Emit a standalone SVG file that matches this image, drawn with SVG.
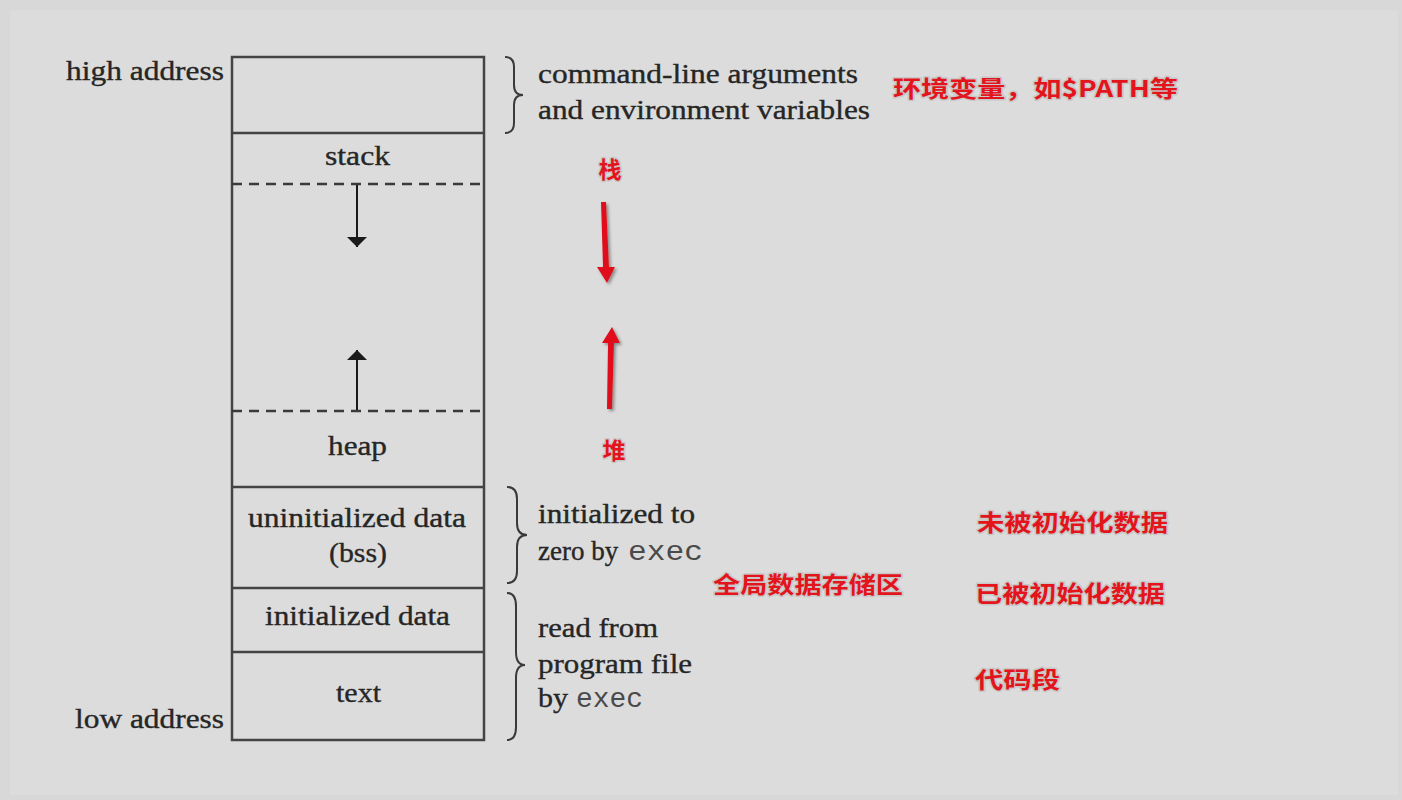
<svg xmlns="http://www.w3.org/2000/svg" width="1402" height="800" viewBox="0 0 1402 800">
<defs>
<style>
.t{font-family:"Liberation Serif","DejaVu Serif",serif;font-size:27px;fill:#262626;stroke:#262626;stroke-width:0.35}
.m{font-family:"Liberation Mono","DejaVu Sans Mono",monospace;font-size:27px;fill:#4a4a4a}
.box{fill:none;stroke:#444;stroke-width:2.5}
.dash{fill:none;stroke:#3a3a3a;stroke-width:2.5;stroke-dasharray:10 7}
.brace{fill:none;stroke:#3a3a3a;stroke-width:2}
.cn{font-family:"Noto Sans CJK SC","Liberation Sans",sans-serif;font-weight:bold;font-size:23px;fill:#e3141c;stroke:#c8c8c8;stroke-width:3;paint-order:stroke;stroke-linejoin:round}
</style>
<marker id="ah" viewBox="0 0 10 20" refX="10" refY="10" markerWidth="10" markerHeight="20" markerUnits="userSpaceOnUse" orient="auto">
<path d="M0,0 L10,10 L0,20 Z" fill="#1a1a1a"/>
</marker>
<filter id="sh" x="-50%" y="-10%" width="200%" height="120%">
<feDropShadow dx="2" dy="2" stdDeviation="1.5" flood-color="#555" flood-opacity="0.6"/>
</filter>
</defs>
<rect x="0" y="0" width="1402" height="800" fill="#d8d8d8"/>
<rect x="10" y="10" width="1388" height="785" fill="#dcdcdc"/>

<g id="memory">
<rect class="box" x="232" y="57" width="252" height="683"/>
<line class="box" x1="232" y1="133" x2="484" y2="133"/>
<line class="box" x1="232" y1="487" x2="484" y2="487"/>
<line class="box" x1="232" y1="588" x2="484" y2="588"/>
<line class="box" x1="232" y1="652" x2="484" y2="652"/>
<line class="dash" x1="232" y1="184" x2="484" y2="184"/>
<line class="dash" x1="232" y1="411" x2="484" y2="411"/>
</g>

<g id="labels-left">
<text class="t" x="66" y="80" textLength="158" lengthAdjust="spacingAndGlyphs">high address</text>
<text class="t" x="75" y="728" textLength="149" lengthAdjust="spacingAndGlyphs">low address</text>
</g>

<g id="node-stack"><text class="t" x="325" y="165" textLength="65" lengthAdjust="spacingAndGlyphs">stack</text></g>
<g id="node-heap"><text class="t" x="328" y="455" textLength="59" lengthAdjust="spacingAndGlyphs">heap</text></g>
<g id="node-bss">
<text class="t" x="248" y="527" textLength="218" lengthAdjust="spacingAndGlyphs">uninitialized data</text>
<text class="t" x="329" y="562" textLength="58" lengthAdjust="spacingAndGlyphs">(bss)</text>
</g>
<g id="node-data"><text class="t" x="265" y="625" textLength="185" lengthAdjust="spacingAndGlyphs">initialized data</text></g>
<g id="node-text"><text class="t" x="336" y="702" textLength="45" lengthAdjust="spacingAndGlyphs">text</text></g>

<g id="connectors">
<line x1="357" y1="185" x2="357" y2="247" stroke="#1a1a1a" stroke-width="2" marker-end="url(#ah)"/>
<line x1="357" y1="410" x2="357" y2="350" stroke="#1a1a1a" stroke-width="2" marker-end="url(#ah)"/>
<path class="brace" d="M505,57 Q514,57 514,67 L514,85 Q514,95 523,95 Q514,95 514,105 L514,123 Q514,133 505,133"/>
<path class="brace" d="M507,487 Q517,487 517,499 L517,523 Q517,535 527,535 Q517,535 517,547 L517,571 Q517,583 507,583"/>
<path class="brace" d="M507,593 Q516,593 516,606 L516,652 Q516,665 525,665 Q516,665 516,678 L516,727 Q516,740 507,740"/>
<g fill="#e0101a" filter="url(#sh)">
<polygon points="601,202 606,202 609,267 615,267 607,283 597,267 603,267"/>
<polygon points="607,409 612,409 614,343 620,343 612,327 602,343 608,343"/>
</g>
</g>

<g id="notes">
<text class="t" x="538" y="83" textLength="320" lengthAdjust="spacingAndGlyphs">command-line arguments</text>
<text class="t" x="538" y="119" textLength="332" lengthAdjust="spacingAndGlyphs">and environment variables</text>
<text class="t" x="538" y="523" textLength="157" lengthAdjust="spacingAndGlyphs">initialized to</text>
<text class="t" x="538" y="560">zero by</text>
<text class="m" x="628" y="560" textLength="75" lengthAdjust="spacingAndGlyphs">exec</text>
<text class="t" x="538" y="637" textLength="120" lengthAdjust="spacingAndGlyphs">read from</text>
<text class="t" x="538" y="673" textLength="154" lengthAdjust="spacingAndGlyphs">program file</text>
<text class="t" x="538" y="707" textLength="30" lengthAdjust="spacingAndGlyphs">by</text>
<text class="m" x="576" y="707" textLength="67" lengthAdjust="spacingAndGlyphs">exec</text>
</g>

<g id="cn-notes">
<text class="cn" x="893" y="97" textLength="285" lengthAdjust="spacingAndGlyphs">环境变量，如$PATH等</text>
<text class="cn" x="610" y="178" text-anchor="middle">栈</text>
<text class="cn" x="614" y="459" text-anchor="middle">堆</text>
<text class="cn" x="713" y="593" textLength="190" lengthAdjust="spacingAndGlyphs">全局数据存储区</text>
<text class="cn" x="977" y="531" textLength="191" lengthAdjust="spacingAndGlyphs">未被初始化数据</text>
<text class="cn" x="975" y="602" textLength="190" lengthAdjust="spacingAndGlyphs">已被初始化数据</text>
<text class="cn" x="975" y="688" textLength="85" lengthAdjust="spacingAndGlyphs">代码段</text>
</g>
</svg>
